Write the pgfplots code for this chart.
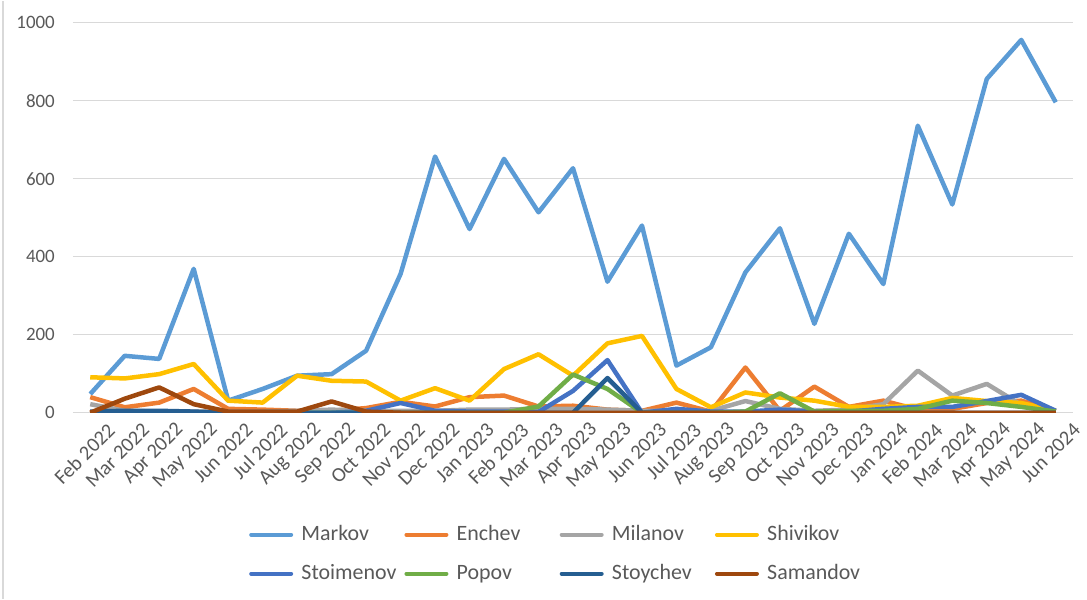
\documentclass[border=0pt]{standalone}
\usepackage{pgfplots}
\pgfplotsset{compat=1.18}
\usepackage{fontspec}
\setmainfont{Carlito}
\definecolor{cMarkov}{HTML}{5B9BD5}
\definecolor{cEnchev}{HTML}{ED7D31}
\definecolor{cMilanov}{HTML}{A5A5A5}
\definecolor{cShivikov}{HTML}{FFC000}
\definecolor{cStoimenov}{HTML}{4472C4}
\definecolor{cPopov}{HTML}{70AD47}
\definecolor{cStoychev}{HTML}{255E91}
\definecolor{cSamandov}{HTML}{9E480E}
\definecolor{gridgray}{HTML}{D9D9D9}
\definecolor{txtgray}{HTML}{595959}
\begin{document}
\begin{tikzpicture}
\begin{axis}[
  at={(0,0)}, anchor=south west,
  scale only axis, width=1000bp, height=390bp,
  xmin=-0.5, xmax=28.5, ymin=0, ymax=1000,
  xtick={0,...,28},
  xticklabels={Feb 2022,Mar 2022,Apr 2022,May 2022,Jun 2022,Jul 2022,Aug 2022,Sep 2022,Oct 2022,Nov 2022,Dec 2022,Jan 2023,Feb 2023,Mar 2023,Apr 2023,May 2023,Jun 2023,Jul 2023,Aug 2023,Sep 2023,Oct 2023,Nov 2023,Dec 2023,Jan 2024,Feb 2024,Mar 2024,Apr 2024,May 2024,Jun 2024},
  ytick={0,200,400,600,800,1000},
  scaled ticks=false,
  /pgf/number format/1000 sep={},
  axis line style={draw=none},
  major tick length=0pt,
  ymajorgrids, grid style={color=gridgray, line width=1.3bp},
  tick label style={color=txtgray, /pgf/number format/assume math mode=true},
  yticklabel style={font=\fontsize{19}{22}\selectfont, inner sep=0pt, anchor=east, xshift=-18bp},
  xticklabel style={font=\fontsize{20.5}{24}\selectfont, rotate=45, anchor=east, inner sep=0pt, xshift=5bp, yshift=-25bp},
  every axis plot/.append style={line width=4.5bp, line join=round, no markers},
  legend columns=4,
  legend cell align=left,
  legend image code/.code={\draw[#1, line width=4bp, line cap=round] (2bp,0bp) -- (42bp,0bp); \path (50bp,0bp);},
  legend style={at={(axis description cs:0.176,-0.3628)}, anchor=west, draw=none, fill=none, inner sep=0pt,
    font=\fontsize{22}{26}\selectfont, text=txtgray,
    /tikz/column sep=0pt, row sep=18bp,
    nodes={inner sep=0pt, text height=16bp, text depth=5bp}},
]
\addplot[cMarkov] coordinates {(0,48)(1,146)(2,138)(3,369)(4,31)(5,61)(6,95)(7,99)(8,159)(9,356)(10,657)(11,471)(12,651)(13,514)(14,627)(15,336)(16,480)(17,121)(18,168)(19,360)(20,473)(21,228)(22,459)(23,330)(24,736)(25,534)(26,856)(27,956)(28,796)};
\addlegendentry{\makebox[103bp][l]{Markov}}
\addplot[cEnchev] coordinates {(0,40)(1,14)(2,26)(3,61)(4,10)(5,8)(6,5)(7,5)(8,12)(9,28)(10,16)(11,40)(12,44)(13,16)(14,18)(15,8)(16,5)(17,26)(18,3)(19,116)(20,5)(21,67)(22,15)(23,31)(24,8)(25,10)(26,25)(27,31)(28,5)};
\addlegendentry{\makebox[103bp][l]{Enchev}}
\addplot[cMilanov] coordinates {(0,22)(1,5)(2,3)(3,3)(4,3)(5,3)(6,5)(7,8)(8,5)(9,5)(10,5)(11,8)(12,8)(13,10)(14,10)(15,8)(16,5)(17,5)(18,5)(19,30)(20,10)(21,5)(22,8)(23,22)(24,108)(25,44)(26,74)(27,20)(28,5)};
\addlegendentry{\makebox[103bp][l]{Milanov}}
\addplot[cShivikov] coordinates {(0,91)(1,88)(2,99)(3,125)(4,31)(5,26)(6,95)(7,82)(8,80)(9,31)(10,63)(11,31)(12,112)(13,150)(14,95)(15,178)(16,197)(17,61)(18,14)(19,52)(20,39)(21,31)(22,15)(23,15)(24,18)(25,38)(26,30)(27,25)(28,5)};
\addlegendentry{\makebox[103bp][l]{Shivikov}}
\addplot[cStoimenov] coordinates {(0,0)(1,0)(2,0)(3,0)(4,0)(5,0)(6,0)(7,0)(8,5)(9,25)(10,5)(11,3)(12,3)(13,2)(14,56)(15,135)(16,0)(17,10)(18,3)(19,3)(20,8)(21,3)(22,3)(23,10)(24,15)(25,15)(26,30)(27,46)(28,5)};
\addlegendentry{\makebox[103bp][l]{Stoimenov}}
\addplot[cPopov] coordinates {(0,0)(1,0)(2,0)(3,0)(4,0)(5,0)(6,0)(7,0)(8,0)(9,0)(10,0)(11,0)(12,0)(13,16)(14,98)(15,61)(16,0)(17,0)(18,0)(19,3)(20,50)(21,3)(22,5)(23,5)(24,10)(25,31)(26,25)(27,15)(28,3)};
\addlegendentry{\makebox[103bp][l]{Popov}}
\addplot[cStoychev] coordinates {(0,3)(1,5)(2,5)(3,3)(4,0)(5,0)(6,0)(7,0)(8,0)(9,0)(10,0)(11,0)(12,0)(13,0)(14,0)(15,89)(16,0)(17,0)(18,0)(19,0)(20,0)(21,0)(22,0)(23,0)(24,0)(25,0)(26,0)(27,0)(28,0)};
\addlegendentry{\makebox[103bp][l]{Stoychev}}
\addplot[cSamandov] coordinates {(0,0)(1,36)(2,65)(3,22)(4,3)(5,3)(6,3)(7,29)(8,3)(9,0)(10,0)(11,0)(12,0)(13,0)(14,0)(15,0)(16,0)(17,0)(18,0)(19,0)(20,0)(21,0)(22,0)(23,0)(24,0)(25,0)(26,0)(27,0)(28,0)};
\addlegendentry{\makebox[103bp][l]{Samandov}}
\end{axis}
\draw[color=black!15, line width=1.5bp] (-70bp,-186bp) -- (-70bp,412bp);
\path (-73bp,-186bp) rectangle (1014bp,412bp);
\end{tikzpicture}
\end{document}
